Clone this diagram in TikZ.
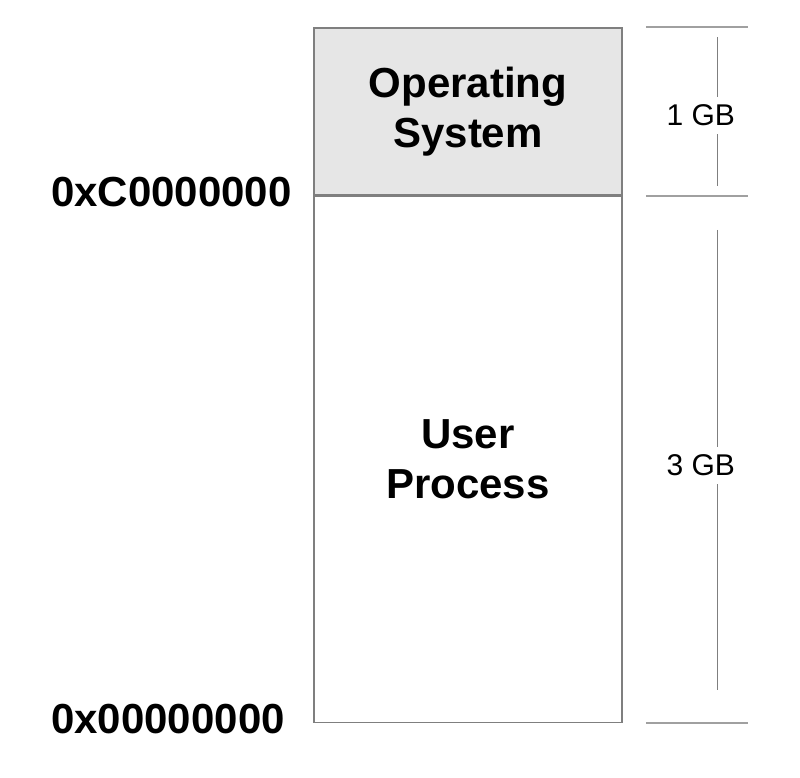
\documentclass[tikz,border=0pt]{standalone}
\usepackage{fontspec}
\setmainfont{Liberation Sans}
\usetikzlibrary{positioning}
\definecolor{boxgray}{HTML}{7F7F7F}
\definecolor{osgray}{HTML}{E6E6E6}
\definecolor{tickgray}{HTML}{A0A0A0}
\tikzset{
  region/.style={draw=boxgray, line width=1.5pt, minimum width=308pt, inner sep=0pt, align=center, font=\bfseries\fontsize{42}{50}\selectfont},
  addr/.style={anchor=base west, inner sep=0pt, font=\bfseries\fontsize{42}{50}\selectfont},
  tick/.style={draw=tickgray, line width=2pt},
  dim/.style={draw=boxgray, line width=1.2pt},
  sizelabel/.style={inner xsep=2pt, inner ysep=8pt, font=\fontsize{30}{34}\selectfont}
}
\begin{document}
\begin{tikzpicture}[x=1pt, y=-1pt]
    \useasboundingbox (0,0) rectangle (800,778);
    \node[region, fill=osgray, minimum height=167pt] (os) at (468,111.5) {Operating\\System};
    \node[region, minimum height=526pt, below=0pt of os] (user) {User\\Process};

    \node[addr] (highAddr) at (51,207) {0xC0000000};
    \node[addr] (lowAddr) at (51,733) {0x00000000};

    \draw[tick] ([shift={(23,0)}]os.north east) -- ([shift={(125,0)}]os.north east);
    \draw[tick] ([shift={(23,0)}]os.south east) -- ([shift={(125,0)}]os.south east);
    \draw[tick] ([shift={(23,0)}]user.south east) -- ([shift={(125,0)}]user.south east);

    \node[sizelabel] (osSize) at ([shift={(78,4)}]os.east) {1 GB};
    \node[sizelabel] (userSize) at ([shift={(78,6)}]user.east) {3 GB};
    \coordinate (osTop) at ([shift={(95,10)}]os.north east);
    \coordinate (osBottom) at ([shift={(95,-10)}]os.south east);
    \coordinate (userTop) at ([shift={(95,34)}]user.north east);
    \coordinate (userBottom) at ([shift={(95,-33)}]user.south east);

    \draw[dim] (osTop) -- (osTop |- osSize.north);
    \draw[dim] (osTop |- osSize.south) -- (osBottom);
    \draw[dim] (userTop) -- (userTop |- userSize.north);
    \draw[dim] (userTop |- userSize.south) -- (userBottom);
  \end{tikzpicture}
\end{document}
